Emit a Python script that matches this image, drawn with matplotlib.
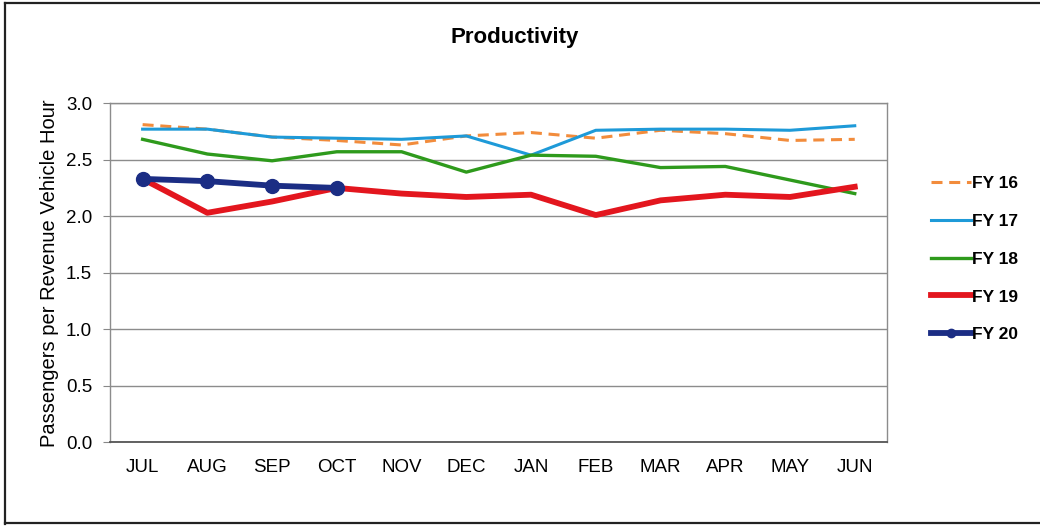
import matplotlib
matplotlib.use("Agg")
import matplotlib.pyplot as plt
from matplotlib.lines import Line2D

plt.rcParams['font.family'] = ['Liberation Sans', 'DejaVu Sans']

months = ["JUL", "AUG", "SEP", "OCT", "NOV", "DEC",
          "JAN", "FEB", "MAR", "APR", "MAY", "JUN"]

fy16 = [2.81, 2.77, 2.70, 2.67, 2.63, 2.71, 2.74, 2.69, 2.76, 2.73, 2.67, 2.68]
fy17 = [2.77, 2.77, 2.70, 2.69, 2.68, 2.71, 2.54, 2.76, 2.77, 2.77, 2.76, 2.80]
fy18 = [2.68, 2.55, 2.49, 2.57, 2.57, 2.39, 2.54, 2.53, 2.43, 2.44, 2.32, 2.20]
fy19 = [2.33, 2.03, 2.13, 2.25, 2.20, 2.17, 2.19, 2.01, 2.14, 2.19, 2.17, 2.26]
fy20 = [2.33, 2.31, 2.27, 2.25]

series_labels = ["FY 16", "FY 17", "FY 18", "FY 19", "FY 20"]
y_ticks = [0.0, 0.5, 1.0, 1.5, 2.0, 2.5, 3.0]

fig = plt.figure(figsize=(10.4, 5.29), dpi=100)
ax = fig.add_axes([0.106, 0.164, 0.747, 0.641])

x = list(range(len(months)))
ax.plot(x, fy16, color="#F28C3C", lw=2.2, ls=(0, (3.6, 2.2)), label=series_labels[0], zorder=3)
ax.plot(x, fy17, color="#1E9AD8", lw=2.2, label=series_labels[1], zorder=3)
ax.plot(x, fy18, color="#2E9A1C", lw=2.4, label=series_labels[2], zorder=3)
ax.plot(x, fy19, color="#E3161E", lw=4.2, label=series_labels[3], zorder=4)
ax.plot(x[:len(fy20)], fy20, color="#1B2D84", lw=4.2, marker="o", ms=10,
        label=series_labels[4], zorder=5)

ax.set_xlim(-0.5, len(months) - 0.5)
ax.set_ylim(0, 3.0)
ax.set_yticks(y_ticks)
ax.set_yticklabels([f"{v:.1f}" for v in y_ticks], fontsize=13.5)
ax.set_xticks(x)
ax.set_xticklabels(months, fontsize=13.5)
ax.tick_params(axis="x", length=0, pad=12)
ax.tick_params(axis="y", length=5, color="#888888", pad=8)

ax.yaxis.grid(True, color="#8c8c8c", lw=1.0)
ax.set_axisbelow(True)
for side in ["top", "right", "left"]:
    ax.spines[side].set_color("#8c8c8c")
    ax.spines[side].set_linewidth(1.0)
ax.spines["bottom"].set_color("#555555")
ax.spines["bottom"].set_linewidth(1.3)

ax.set_ylabel("Passengers per Revenue Vehicle Hour", fontsize=14.5, labelpad=5)
fig.text(0.495, 0.93, "Productivity", ha="center", va="center",
         fontsize=16, fontweight="bold")

handles, labels = ax.get_legend_handles_labels()
leg = fig.legend(handles, labels, loc="center left", bbox_to_anchor=(0.88, 0.51),
                 frameon=False, handlelength=2.3, handletextpad=0.1,
                 labelspacing=1.3, prop={"weight": "bold", "size": 12.5})
for h in leg.legend_handles:
    if h.get_marker() == "o":
        h.set_markersize(6)

# outer frame around the chart
fig.add_artist(Line2D([0.005, 0.005], [0.01, 0.995], transform=fig.transFigure,
                      color="#222222", lw=1.6))
fig.add_artist(Line2D([0.005, 1.0], [0.995, 0.995], transform=fig.transFigure,
                      color="#222222", lw=1.6))
fig.add_artist(Line2D([0.005, 1.0], [0.012, 0.012], transform=fig.transFigure,
                      color="#222222", lw=1.6))

fig.savefig("out.png", dpi=100)
